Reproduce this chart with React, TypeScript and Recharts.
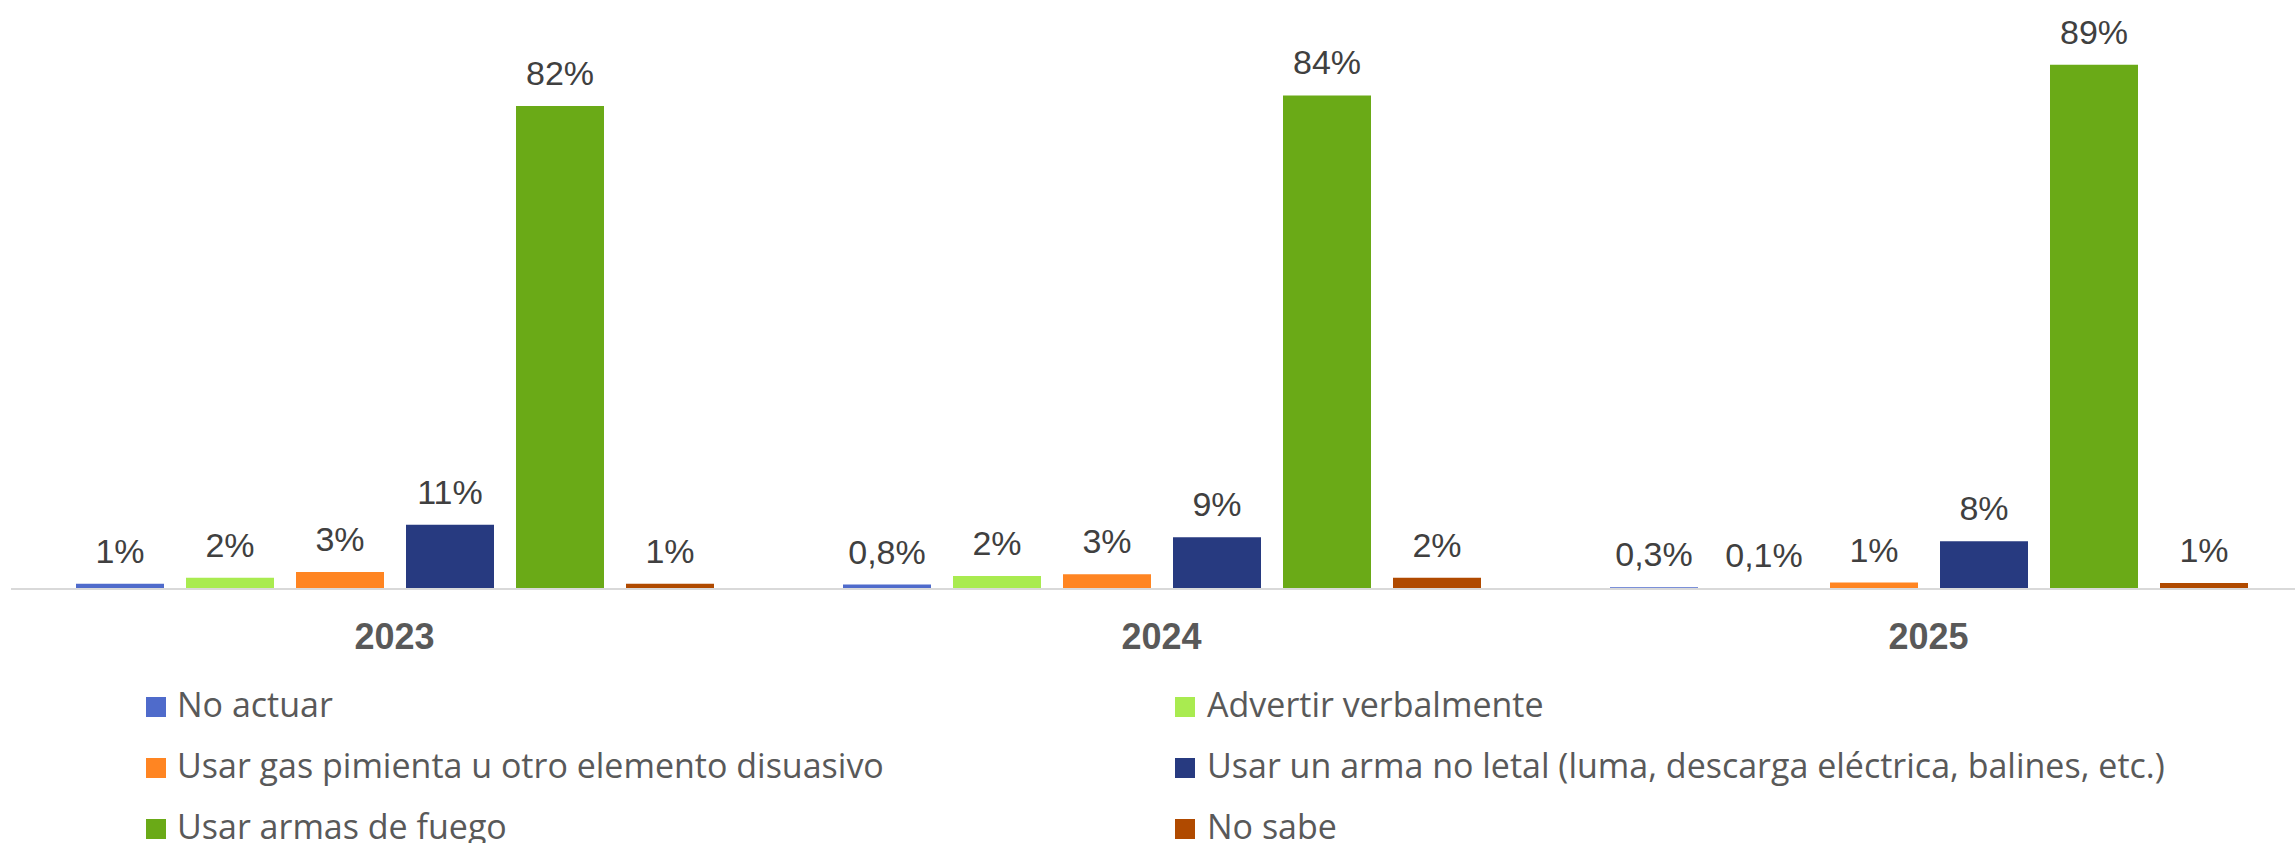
import { BarChart, Bar, XAxis, YAxis, LabelList, Legend } from "recharts"

const years = ["2023", "2024", "2025"]

const noActuar = [0.9, 0.75, 0.3]
const advertir = [1.9, 2.2, 0.1]
const gasPimienta = [2.9, 2.5, 1.1]
const armaNoLetal = [10.9, 8.8, 8.1]
const armasFuego = [82, 83.8, 89]
const noSabe = [0.9, 1.9, 1.0]

const noActuarLabels = ["1%", "0,8%", "0,3%"]
const advertirLabels = ["2%", "2%", "0,1%"]
const gasPimientaLabels = ["3%", "3%", "1%"]
const armaNoLetalLabels = ["11%", "9%", "8%"]
const armasFuegoLabels = ["82%", "84%", "89%"]
const noSabeLabels = ["1%", "2%", "1%"]

const series = [
  { key: "noActuar", name: "No actuar", color: "#4F6BCB", values: noActuar, labels: noActuarLabels },
  { key: "advertir", name: "Advertir verbalmente", color: "#A9EB50", values: advertir, labels: advertirLabels },
  { key: "gas", name: "Usar gas pimienta u otro elemento disuasivo", color: "#FF8522", values: gasPimienta, labels: gasPimientaLabels },
  { key: "noLetal", name: "Usar un arma no letal (luma, descarga eléctrica, balines, etc.)", color: "#273A80", values: armaNoLetal, labels: armaNoLetalLabels },
  { key: "fuego", name: "Usar armas de fuego", color: "#6AAA17", values: armasFuego, labels: armasFuegoLabels },
  { key: "noSabe", name: "No sabe", color: "#B04A00", values: noSabe, labels: noSabeLabels },
]

const data = years.map((year, i) => {
  const row: Record<string, string | number> = { year }
  series.forEach((s) => {
    row[s.key] = s.values[i]
    row[s.key + "Label"] = s.labels[i]
  })
  return row
})

const YearTick = ({ x, y, payload }: any) => (
  <text
    x={x}
    y={y + 60}
    textAnchor="middle"
    fill="#595959"
    fontSize={36}
    fontWeight="bold"
    fontFamily="'Liberation Sans', Arial, sans-serif"
  >
    {payload.value}
  </text>
)

// legend keeps the series order (recharts sorts its payload by name)
const LegendBox = () => (
  <svg width={2301} height={163} style={{ display: "block" }}>
    {series.map((s, i) => {
      const col = i % 2
      const row = Math.floor(i / 2)
      const sx = col === 0 ? 135 : 1164
      const tx = col === 0 ? 166 : 1196
      const base = 37 + row * 61
      return (
        <g key={s.key}>
          <rect x={sx} y={base - 20} width={20} height={20} fill={s.color} />
          <text x={tx} y={base} fill="#595959" fontSize={34} fontFamily="'Open Sans', sans-serif">
            {s.name}
          </text>
        </g>
      )
    })}
  </svg>
)

export default function App() {
  return (
    <div style={{ position: "absolute", left: 0, top: 0, width: 2295, height: 843, overflow: "hidden", background: "#fff" }}>
      <BarChart
        width={2312}
        height={843}
        data={data}
        margin={{ top: 0, right: 0, bottom: 0, left: 11 }}
        barSize={88}
        barGap={22}
      >
        <XAxis
          dataKey="year"
          axisLine={{ stroke: "#D9D9D9", strokeWidth: 2 }}
          tickLine={false}
          tickSize={0}
          tickMargin={0}
          height={91}
          tick={<YearTick />}
          interval={0}
        />
        <YAxis hide domain={[0, 100]} />
        <Legend verticalAlign="bottom" content={<LegendBox />} />
        {series.map((s) => (
          <Bar key={s.key} dataKey={s.key} name={s.name} fill={s.color} isAnimationActive={false}>
            <LabelList
              dataKey={s.key + "Label"}
              position="top"
              offset={21}
              fill="#404040"
              fontSize={34}
              fontFamily="'Liberation Sans', Arial, sans-serif"
            />
          </Bar>
        ))}
      </BarChart>
    </div>
  )
}
